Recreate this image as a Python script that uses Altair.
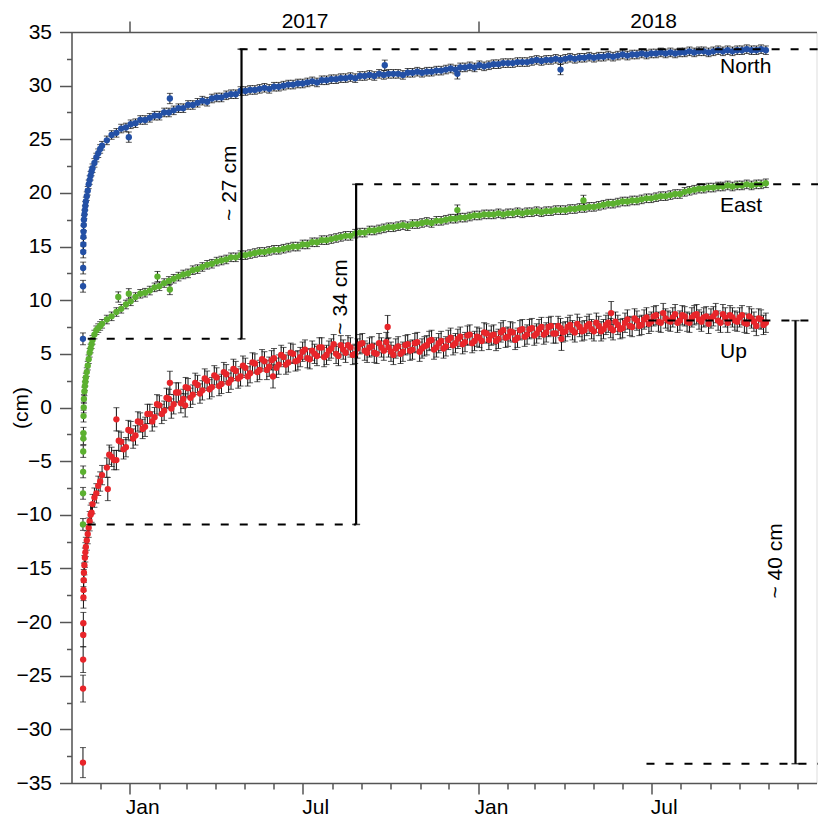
import altair as alt
import pandas as pd

FONT = "Liberation Sans"

# ---- data (days after 2016-11-13, values in cm) ----
EARLY_DAYS = [0, 0.1, 0.2, 0.3, 0.4, 0.5, 0.6, 0.8, 1, 1.5, 2, 2.5, 3, 4, 5, 6, 7, 8, 9, 10, 12, 14, 16, 18, 20]
LATER_DAYS = list(range(25, 716, 5))
MID_DAYS = [d + 2.5 for d in range(25, 711, 5)]

north_early = [6.4, 11.3, 13.0, 14.5, 15.2, 15.9, 16.4, 17.0, 17.5, 18.0, 18.4, 18.8, 19.2,
               19.7, 20.2, 20.8, 21.2, 21.6, 22.0, 22.3, 22.8, 23.3, 23.7, 24.1, 24.4]
north_later = [
    24.9, 25.4, 25.6, 26.0, 26.1, 26.4, 26.5, 26.8, 26.8, 27.0,
    27.2, 27.2, 27.5, 27.5, 27.7, 27.9, 27.9, 28.2, 28.2, 28.4,
    28.6, 28.5, 28.8, 28.9, 28.9, 29.1, 29.2, 29.2, 29.5, 29.5,
    29.6, 29.6, 29.7, 29.8, 29.7, 29.9, 29.9, 30.0, 30.1, 30.1,
    30.2, 30.2, 30.3, 30.4, 30.3, 30.5, 30.5, 30.6, 30.6, 30.7,
    30.7, 30.8, 30.7, 30.9, 30.9, 31.0, 30.9, 31.1, 31.0, 31.1,
    31.1, 31.1, 31.0, 31.2, 31.2, 31.3, 31.2, 31.3, 31.3, 31.4,
    31.4, 31.5, 31.6, 31.5, 31.7, 31.7, 31.8, 31.7, 31.9, 31.8,
    31.9, 32.0, 32.0, 32.1, 32.1, 32.1, 32.2, 32.2, 32.2, 32.3,
    32.4, 32.3, 32.4, 32.4, 32.5, 32.4, 32.5, 32.6, 32.5, 32.6,
    32.6, 32.7, 32.6, 32.7, 32.7, 32.8, 32.7, 32.8, 32.9, 32.8,
    32.9, 32.9, 33.0, 32.9, 33.0, 33.0, 33.1, 33.0, 33.1, 33.0,
    33.1, 33.1, 33.2, 33.1, 33.2, 33.2, 33.1, 33.2, 33.3, 33.2,
    33.3, 33.2, 33.3, 33.3, 33.4, 33.3, 33.3, 33.4, 33.3,
]

east_early = [-10.9, -8.0, -6.0, -4.1, -2.9, -2.4, -0.8, 0.0, 0.8, 1.5, 2.0, 2.4, 2.8,
              3.3, 3.9, 4.5, 5.1, 5.5, 5.9, 6.3, 6.8, 7.2, 7.4, 7.6, 7.8]
east_later = [
    8.2, 8.5, 8.9, 9.2, 9.6, 9.9, 10.3, 10.6, 10.7, 10.9,
    11.2, 11.3, 11.6, 11.8, 12.0, 12.2, 12.4, 12.5, 12.8, 12.9,
    13.1, 13.3, 13.4, 13.6, 13.7, 13.8, 14.0, 14.0, 14.2, 14.2,
    14.3, 14.4, 14.5, 14.5, 14.6, 14.7, 14.7, 14.8, 14.9, 15.0,
    15.0, 15.2, 15.2, 15.4, 15.4, 15.6, 15.6, 15.7, 15.8, 15.9,
    16.0, 16.0, 16.2, 16.3, 16.3, 16.5, 16.5, 16.6, 16.7, 16.8,
    16.8, 16.9, 17.0, 16.9, 17.1, 17.1, 17.2, 17.3, 17.2, 17.4,
    17.4, 17.5, 17.6, 17.6, 17.7, 17.7, 17.8, 17.9, 17.9, 18.0,
    18.0, 18.0, 18.1, 18.0, 18.1, 18.1, 18.2, 18.1, 18.2, 18.2,
    18.3, 18.2, 18.3, 18.3, 18.4, 18.4, 18.4, 18.5, 18.5, 18.6,
    18.6, 18.7, 18.7, 18.8, 18.9, 19.0, 19.0, 19.1, 19.2, 19.2,
    19.3, 19.3, 19.4, 19.5, 19.5, 19.6, 19.7, 19.7, 19.8, 19.9,
    19.9, 20.1, 20.2, 20.3, 20.4, 20.4, 20.5, 20.5, 20.6, 20.6,
    20.7, 20.6, 20.7, 20.7, 20.8, 20.7, 20.8, 20.8, 20.9,
]

up_early = [-33.1, -26.2, -23.5, -21.2, -20.1, -17.7, -17.0, -16.1, -15.4, -14.7, -14.0, -13.5, -13.0,
            -12.4, -11.8, -11.2, -10.6, -10.0, -9.8, -9.0, -8.4, -8.0, -7.3, -6.9, -6.3]
up_later = [
    -5.6, -4.6, -4.9, -3.2, -3.7, -2.2, -2.6, -1.4, -1.8, -0.6,
    -0.9, 0.2, -0.3, 0.8, 0.3, 1.4, 0.8, 1.8, 1.2, 2.1,
    1.6, 2.5, 1.9, 2.8, 2.2, 3.1, 2.6, 3.4, 2.9, 3.7,
    3.2, 4.1, 3.5, 4.3, 3.8, 4.6, 4.0, 4.7, 4.2, 5.0,
    4.4, 5.2, 4.6, 5.3, 4.8, 5.6, 4.9, 5.5, 5.0, 5.8,
    5.1, 5.6, 5.0, 5.9, 5.3, 5.6, 5.1, 6.0, 5.3, 5.6,
    4.9, 5.7, 5.2, 5.9, 5.4, 6.1, 5.5, 5.8, 6.3, 5.6,
    6.2, 5.7, 6.5, 6.0, 6.6, 6.1, 6.8, 6.2, 6.5, 7.0,
    6.3, 6.8, 6.4, 7.2, 6.6, 7.0, 6.5, 7.3, 6.8, 7.4,
    6.9, 7.5, 7.0, 7.6, 6.9, 7.4, 7.1, 7.7, 7.0, 7.5,
    7.2, 7.8, 7.1, 7.6, 7.3, 7.9, 7.2, 7.7, 7.4, 8.2,
    7.5, 8.1, 7.7, 8.4, 8.0, 8.6, 7.9, 8.3, 8.0, 8.7,
    8.1, 8.5, 7.9, 8.6, 8.2, 8.4, 7.8, 8.5, 8.1, 8.7,
    7.9, 8.4, 8.0, 8.6, 7.8, 8.3, 7.6, 8.2, 7.9,
]
up_mid = [
    -4.4, -4.9, -3.1, -3.9, -2.1, -2.9, -1.3, -2.0, -0.6, -1.3,
    0.3, -0.6, 0.9, -0.1, 1.4, 0.4, 1.9, 0.9, 2.3, 1.3,
    2.7, 1.7, 3.0, 2.0, 3.3, 2.3, 3.6, 2.7, 3.9, 2.9,
    4.2, 3.3, 4.5, 3.5, 4.4, 3.7, 4.9, 4.0, 5.1, 4.3,
    4.7, 5.4, 4.5, 5.0, 5.6, 4.7, 5.3, 5.9, 4.8, 5.4,
    5.8, 4.9, 5.5, 6.0, 5.1, 5.7, 5.0, 5.6, 6.1, 5.2,
    5.5, 5.0, 5.8, 5.3, 6.0, 5.2, 5.7, 6.2, 5.4, 6.0,
    5.5, 6.3, 5.8, 6.4, 5.9, 6.7, 6.0, 6.6, 6.2, 6.9,
    6.7, 6.2, 7.0, 6.5, 7.1, 6.3, 7.2, 6.6, 7.3, 6.7,
    7.3, 6.8, 7.5, 6.9, 7.6, 7.0, 7.5, 7.2, 7.8, 7.1,
    7.6, 7.3, 7.9, 7.1, 7.7, 7.4, 8.0, 7.3, 7.9, 7.6,
    8.3, 7.6, 8.2, 7.8, 8.5, 8.0, 8.8, 8.1, 8.4, 7.9,
    8.6, 8.0, 8.4, 8.7, 8.0, 8.5, 8.3, 8.8, 7.9, 8.4,
    8.6, 8.1, 8.4, 7.9, 8.5, 8.0, 8.3, 7.7,
]

# outliers (day, value)
north_out_days = [48, 91, 316, 392, 500]
north_out_vals = [25.2, 28.8, 31.9, 31.1, 31.5]
east_out_days = [37, 48, 78, 91, 392, 524]
east_out_vals = [10.3, 10.6, 12.2, 11.0, 18.4, 19.3]
up_out_days = [26, 35, 91, 107, 199, 319, 501, 553]
up_out_vals = [-7.6, -1.1, 2.3, 0.2, 2.9, 7.5, 6.4, 8.8]

# error half-widths (cm)
north_err_early = [0.55, 0.55, 0.55, 0.55, 0.55, 0.55, 0.55, 0.5]
east_err_early = [0.55, 0.55, 0.55, 0.55, 0.55, 0.55, 0.55, 0.5]
up_err_early = [1.4, 1.25, 1.2, 1.1, 1.0, 1.0, 1.0, 1.0]
ERR_NE = 0.4
ERR_U = 0.9

# reference lines
hline_start = ["2017-04-26", "2016-11-18", "2017-08-25", "2016-11-18", "2018-06-28", "2018-06-26"]
hline_end = ["2019-01-01", "2017-04-28", "2019-01-01", "2017-08-26", "2019-01-01", "2019-01-01"]
hline_val = [33.4, 6.4, 20.8, -10.9, 8.1, -33.2]
vline_date = ["2017-04-28", "2017-08-26", "2018-11-29"]
vline_lo = [6.4, -10.9, -33.2]
vline_hi = [33.4, 20.8, 8.1]

comp_labels = ["North", "East", "Up"]
comp_label_date = ["2018-09-11", "2018-09-11", "2018-09-11"]
comp_label_val = [31.7, 18.8, 5.2]

span_labels = ["~ 27 cm", "~ 34 cm", "~ 40 cm"]
span_label_date = ["2017-04-16", "2017-08-10", "2018-11-09"]
span_label_val = [20.9, 10.3, -14.3]

# ---- build tables ----
t0 = pd.Timestamp("2016-11-13")


def iso(d):
    return (t0 + pd.Timedelta(days=d)).strftime("%Y-%m-%dT%H:%M:%S")


rows = []


def add(name, days, vals, errs):
    for d, v, e in zip(days, vals, errs):
        rows.append({"date": iso(d), "v": v, "lo": v - e, "hi": v + e, "comp": name})


days_all = EARLY_DAYS + LATER_DAYS
for name, early, later, eearly, econst, od, ov in [
    ("North", north_early, north_later, north_err_early, ERR_NE, north_out_days, north_out_vals),
    ("East", east_early, east_later, east_err_early, ERR_NE, east_out_days, east_out_vals),
    ("Up", up_early, up_later, up_err_early, ERR_U, up_out_days, up_out_vals),
]:
    vals = early + later
    errs = eearly + [econst] * (len(vals) - len(eearly))
    add(name, days_all, vals, errs)
    if name == "Up":
        add(name, MID_DAYS, up_mid, [ERR_U] * len(up_mid))
    add(name, od, ov, [econst * 1.2] * len(od))

df = pd.DataFrame(rows)
df["order"] = df["comp"].map({"North": 0, "East": 1, "Up": 2})

T = "T00:00:00"
hl = pd.DataFrame({"d1": [s + T for s in hline_start], "d2": [s + T for s in hline_end], "v": hline_val})
vl = pd.DataFrame({"d": [s + T for s in vline_date], "lo": vline_lo, "hi": vline_hi})
cl = pd.DataFrame({"d": [s + T for s in comp_label_date], "v": comp_label_val, "t": comp_labels})
sl = pd.DataFrame({"d": [s + T for s in span_label_date], "v": span_label_val, "t": span_labels})

# ---- scales & axes ----
xscale = alt.Scale(domain=[alt.DateTime(year=2016, month=11, date=1),
                           alt.DateTime(year=2018, month=12, date=21)], nice=False)
yscale = alt.Scale(domain=[-35, 35], nice=False, zero=False)

AXC = "#555555"
month_vals = []
for y in (2016, 2017, 2018):
    for m in range(1, 13):
        if y == 2016 and m < 12:
            continue
        month_vals.append(alt.DateTime(year=y, month=m, date=1))

x_bottom = alt.Axis(
    orient="bottom", values=month_vals, title=None, grid=False,
    labelExpr="month(datum.value)===0 ? 'Jan' : (month(datum.value)===6 ? 'Jul' : '')",
    tickSize={"condition": {"test": "month(datum.value) % 6 === 0", "value": 11}, "value": 6},
    labelAlign="center", labelOffset=12.5, labelPadding=2, labelFontSize=21, labelFont=FONT,
    labelColor="black", domainColor=AXC, tickColor=AXC, domainWidth=1.5, tickWidth=1.5,
    labelFlush=False, labelOverlap=False,
)
x_top = alt.Axis(
    orient="top", title=None, grid=False,
    values=[alt.DateTime(year=2017, month=1, date=1), alt.DateTime(year=2017, month=7, date=3),
            alt.DateTime(year=2018, month=1, date=1), alt.DateTime(year=2018, month=7, date=3)],
    labelExpr="month(datum.value)===6 ? timeFormat(datum.value, '%Y') : ''",
    tickSize={"condition": {"test": "month(datum.value) === 0", "value": 11}, "value": 0},
    labelPadding=1, labelFontSize=21, labelFont=FONT, labelColor="black",
    domainColor=AXC, tickColor=AXC, domainWidth=1.5, tickWidth=1.5,
    labelFlush=False, labelOverlap=False,
)
PLOT_H = 751
y_axis = alt.Axis(
    values=[-35 + 2.5 * i for i in range(29)], format="d", grid=False,
    labelExpr="datum.value % 5 === 0 ? datum.label : ''",
    tickSize={"condition": {"test": "datum.value % 5 === 0", "value": 12}, "value": 5},
    labelPadding=8, labelFontSize=21, labelFont=FONT, labelColor="black",
    domainColor=AXC, tickColor=AXC, domainWidth=1.5, tickWidth=1.5,
    title="(cm)", titleFont=FONT, titleFontSize=21, titleFontWeight="normal", titleColor="black",
    titleX=-50, titleY=PLOT_H / 2, titleAngle=270, titleAlign="center", titleBaseline="middle",
    labelOverlap=False,
)

color = alt.Color("comp:N", scale=alt.Scale(domain=["North", "East", "Up"],
                                           range=["#2350a5", "#5cb130", "#e8252a"]), legend=None)

base = alt.Chart(df)


def Y(field):
    return alt.Y(field, scale=yscale, axis=y_axis)


err_rules = base.mark_rule(color="#111111", strokeWidth=1).encode(
    x=alt.X("date:T", scale=xscale, axis=x_bottom),
    y=Y("lo:Q"),
    y2="hi:Q",
)
err_caps = base.transform_fold(["lo", "hi"], as_=["end", "ev"]).mark_tick(
    orient="horizontal", size=6, thickness=1, color="#111111").encode(
    x=alt.X("date:T", scale=xscale, axis=None),
    y=Y("ev:Q"),
)
points = base.mark_circle(size=40, opacity=1).encode(
    x=alt.X("date:T", scale=xscale, axis=None),
    y=Y("v:Q"),
    color=color,
    order="order:Q",
)
dashes = alt.Chart(hl).mark_rule(color="black", strokeWidth=2, strokeDash=[8, 11]).encode(
    x=alt.X("d1:T", scale=xscale, axis=x_top),
    x2="d2:T",
    y=Y("v:Q"),
)
vlines = alt.Chart(vl).mark_rule(color="black", strokeWidth=2.2).encode(
    x=alt.X("d:T", scale=xscale, axis=None),
    y=Y("lo:Q"),
    y2="hi:Q",
)
vcaps = alt.Chart(vl).transform_fold(["lo", "hi"], as_=["end", "ev"]).mark_tick(
    orient="horizontal", size=8, thickness=1.5, color="black").encode(
    x=alt.X("d:T", scale=xscale, axis=None),
    y=Y("ev:Q"),
)
comp_text = alt.Chart(cl).mark_text(align="left", baseline="middle", font=FONT, fontSize=21,
                                    color="black").encode(
    x=alt.X("d:T", scale=xscale, axis=None),
    y=Y("v:Q"),
    text="t:N",
)
span_text = alt.Chart(sl).mark_text(align="center", baseline="middle", angle=270, font=FONT,
                                    fontSize=21, color="black").encode(
    x=alt.X("d:T", scale=xscale, axis=None),
    y=Y("v:Q"),
    text="t:N",
)

chart = alt.layer(
    err_rules, err_caps, points, dashes, vlines, vcaps, comp_text, span_text
).resolve_axis(x="independent").properties(
    width=745, height=PLOT_H,
    autosize=alt.AutoSizeParams(type="none"),
    padding={"left": 63.5, "top": 24, "right": 1, "bottom": 33},
).configure_view(stroke=None).configure(background="white")

chart.save("out.html", embed_options={"renderer": "svg", "actions": False})
